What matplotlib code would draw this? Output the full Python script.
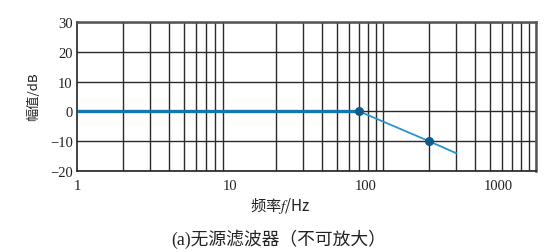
import matplotlib
matplotlib.use("Agg")
import matplotlib.pyplot as plt
from matplotlib.ticker import LogLocator, NullFormatter, FixedLocator, FixedFormatter

plt.rcParams['mathtext.fontset'] = 'stix'

# data
flat_freq = [1, 70]
flat_gain = [0, 0]
slope_freq = [70, 200, 300]
slope_gain = [0, -10, -14]
point_freq = [70, 200]
point_gain = [0, -10]

# tick labels as placed in the reference
xtick_pos = [1, 10, 77, 565]
xtick_lab = ["1", "10", "100", "1000"]
ytick_pos = [-20, -10, 0, 10, 20, 30]
ytick_lab = ["\u221220", "\u221210", "0", "10", "20", "30"]

fig = plt.figure(figsize=(5.53, 2.53), dpi=100)
ax = fig.add_axes([77/553, (253-172)/253, 459/553, 149/253])
ax.set_xscale('log')
ax.set_xlim(1, 1000)
ax.set_ylim(-20, 30)

ax.xaxis.set_major_locator(FixedLocator(xtick_pos))
ax.xaxis.set_major_formatter(FixedFormatter(xtick_lab))
ax.xaxis.set_minor_locator(LogLocator(base=10, subs=range(1, 10), numticks=50))
ax.xaxis.set_minor_formatter(NullFormatter())
ax.set_yticks(ytick_pos)
ax.set_yticklabels(ytick_lab)

ax.grid(False, which='major', axis='x')
ax.grid(True, which='minor', axis='x', color='#2a2a2a', lw=1.0)
ax.grid(True, which='major', axis='y', color='#2a2a2a', lw=1.0)
ax.tick_params(which='both', length=0)
ax.tick_params(axis='x', pad=6)
ax.tick_params(axis='y', pad=3)
for lab in ax.get_xticklabels() + ax.get_yticklabels():
    lab.set_family('Liberation Serif')
    lab.set_fontsize(10.5)
    lab.set_color('#222222')

for s in ['top', 'right']:
    ax.spines[s].set_color('#555555')
    ax.spines[s].set_linewidth(1.8)
for s in ['left', 'bottom']:
    ax.spines[s].set_color('#222222')
    ax.spines[s].set_linewidth(1.2)

ax.plot(flat_freq, flat_gain, color='#1677ad', lw=2.4, solid_capstyle='butt', zorder=3)
ax.plot(slope_freq, slope_gain, color='#2a93cf', lw=1.3, zorder=3)
ax.plot(point_freq, point_gain, 'o', color='#0d5c8a', ms=5.5, zorder=4)

fig.text(34/553, 1 - 97/253, "幅值/dB", rotation=90, ha='center', va='center',
         family=['Noto Sans CJK SC', 'DejaVu Sans'], fontsize=9.5, color='#222222')
fig.text(280/553, 1 - 206/253, "频率$f$/Hz", ha='center', va='center',
         family=['Noto Sans CJK SC', 'DejaVu Sans'], fontsize=11, color='#222222')
fig.text(279/553, 1 - 239/253, "(a)无源滤波器（不可放大）", ha='center', va='center',
         family=['Liberation Serif', 'Noto Sans CJK SC'], fontsize=12.8, color='#222222')

fig.savefig("out.png", dpi=100)
